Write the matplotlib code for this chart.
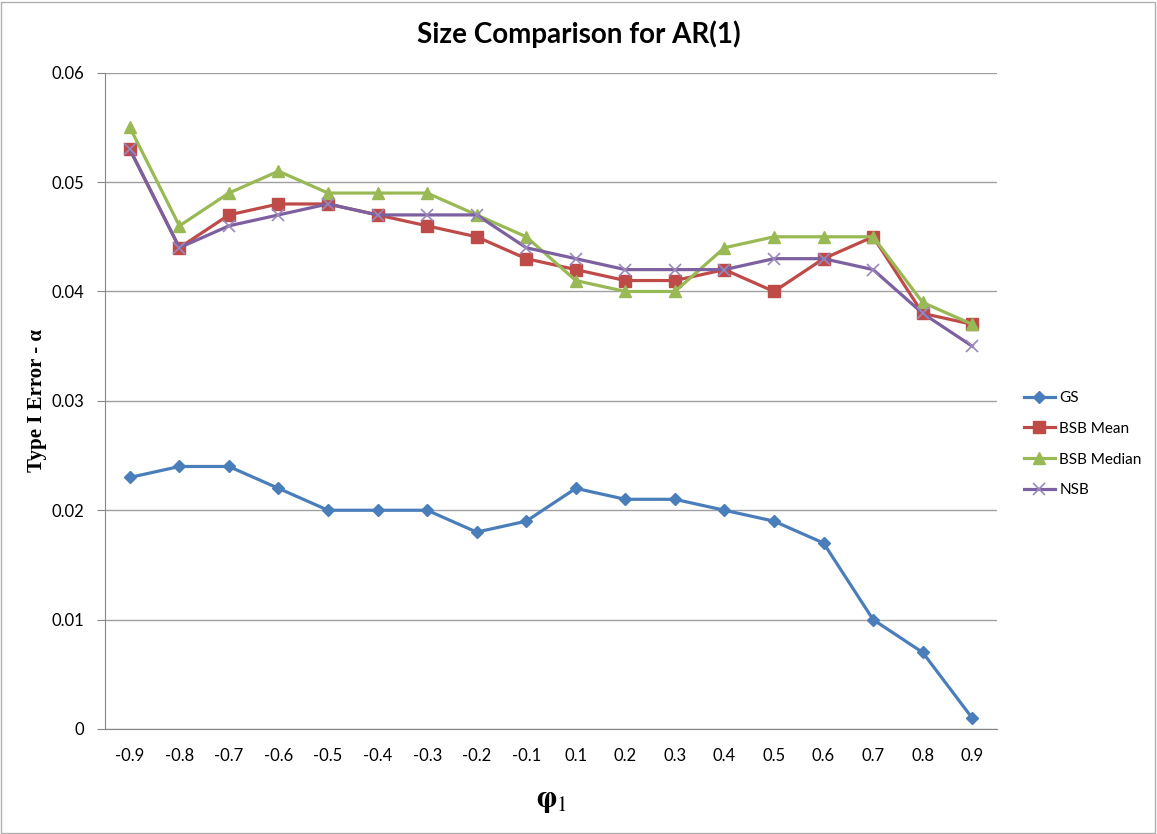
import matplotlib
matplotlib.use("Agg")
import matplotlib.pyplot as plt
from matplotlib.patches import Rectangle

# datos
phi = ['-0.9', '-0.8', '-0.7', '-0.6', '-0.5', '-0.4', '-0.3', '-0.2', '-0.1',
       '0.1', '0.2', '0.3', '0.4', '0.5', '0.6', '0.7', '0.8', '0.9']
gs = [0.023, 0.024, 0.024, 0.022, 0.020, 0.020, 0.020, 0.018, 0.019,
      0.022, 0.021, 0.021, 0.020, 0.019, 0.017, 0.010, 0.007, 0.001]
bsb_mean = [0.053, 0.044, 0.047, 0.048, 0.048, 0.047, 0.046, 0.045, 0.043,
            0.042, 0.041, 0.041, 0.042, 0.040, 0.043, 0.045, 0.038, 0.037]
bsb_median = [0.055, 0.046, 0.049, 0.051, 0.049, 0.049, 0.049, 0.047, 0.045,
              0.041, 0.040, 0.040, 0.044, 0.045, 0.045, 0.045, 0.039, 0.037]
nsb = [0.053, 0.044, 0.046, 0.047, 0.048, 0.047, 0.047, 0.047, 0.044,
       0.043, 0.042, 0.042, 0.042, 0.043, 0.043, 0.042, 0.038, 0.035]

plt.rcParams['font.family'] = ['Lato', 'DejaVu Sans']
plt.rcParams['mathtext.fontset'] = 'stix'

fig = plt.figure(figsize=(11.57, 8.34), dpi=100)
ax = fig.add_axes([0.0908, 0.1259, 0.7709, 0.7869])
x = range(len(phi))

ax.plot(x, gs, color='#4A7EBB', lw=2.3, marker='D', ms=6.5, label='GS')
ax.plot(x, bsb_mean, color='#BE4B48', lw=2.3, marker='s', ms=8.5, label='BSB Mean')
ax.plot(x, bsb_median, color='#98B954', lw=2.3, marker='^', ms=9, label='BSB Median')
ax.plot(x, nsb, color='#7D60A0', lw=2.3, marker='x', ms=8, mew=1.2,
        mec='#9A88BC', label='NSB')

ax.set_xlim(-0.5, len(phi) - 0.5)
ax.set_ylim(0, 0.06)
ax.set_yticks([0, 0.01, 0.02, 0.03, 0.04, 0.05, 0.06])
ax.set_yticklabels(['0', '0.01', '0.02', '0.03', '0.04', '0.05', '0.06'])
ax.set_xticks(list(x))
ax.set_xticklabels(phi)
ax.tick_params(axis='x', length=0, pad=14, labelsize=12)
ax.tick_params(axis='y', length=6, color='#868686', pad=9, labelsize=12)
ax.yaxis.grid(True, color='#A0A0A0', lw=1)
ax.set_axisbelow(True)
for s in ['top', 'right']:
    ax.spines[s].set_visible(False)
for s in ['left', 'bottom']:
    ax.spines[s].set_color('#868686')

fig.suptitle('Size Comparison for AR(1)', x=0.5, y=0.975, fontsize=20, fontweight='bold')
ax.set_ylabel('Type I Error - \u03b1', family='Liberation Serif', fontweight='bold',
              fontsize=15)
ax.yaxis.set_label_coords(-0.065, 0.5)
ax.set_xlabel('$\\mathbf{\\varphi}_1$', fontsize=22, labelpad=16)

ax.legend(loc='center left', bbox_to_anchor=(1.015, 0.434), frameon=False,
          fontsize=11, labelspacing=1.1, handlelength=2.0, handletextpad=0.3)

fig.patches.append(Rectangle((0.001, 0.001), 0.997, 0.997, transform=fig.transFigure,
                             fill=False, ec='#B0B0B0', lw=1))

plt.savefig('out.png', dpi=100)
